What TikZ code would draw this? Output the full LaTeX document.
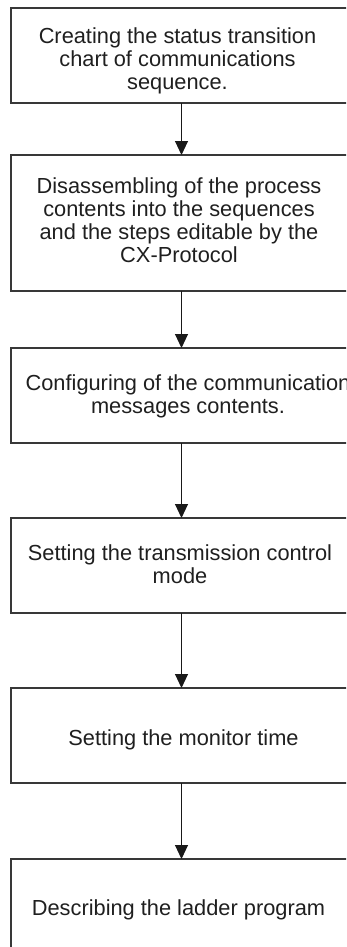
\documentclass[tikz,border=0pt]{standalone}
\usepackage{fontspec}
\setmainfont{Liberation Sans}
\usetikzlibrary{arrows.meta}
\begin{document}
\begin{tikzpicture}[x=1bp,y=-1bp,
  box/.style={draw=black!78, line width=1.1bp, minimum width=341bp, inner sep=0pt, outer sep=0pt, anchor=north},
  lbl/.style={inner sep=0pt, anchor=base, text=black!88, font=\fontsize{21.8bp}{23.3bp}\selectfont},
  arr/.style={draw=black!90, line width=1bp, -{Triangle[width=13bp,length=14bp]}}]
\useasboundingbox (0,0) rectangle (346,947);
\clip (0,0) rectangle (346,947);
\node[box, minimum height=95bp]  (b1) at (181.5,8) {};
\node[box, minimum height=136bp] (b2) at (181.5,155) {};
\node[box, minimum height=95bp]  (b3) at (181.5,348) {};
\node[box, minimum height=95bp]  (b4) at (181.5,518) {};
\node[box, minimum height=95bp]  (b5) at (181.5,688) {};
\node[box, minimum height=120bp] (b6) at (181.5,859) {};
\node[lbl] (t1) at (177.5,43) {\begin{tabular}[t]{@{}c@{}}Creating the status transition\\chart of communications\\sequence.\end{tabular}};
\node[lbl] (t2) at (179,193) {\begin{tabular}[t]{@{}c@{}}Disassembling of the process\\contents into the sequences\\and the steps editable by the\\CX-Protocol\end{tabular}};
\node[lbl] (t3) at (188,390) {\begin{tabular}[t]{@{}c@{}}Configuring of the communication\\messages contents.\end{tabular}};
\node[lbl] (t4) at (180,560) {\begin{tabular}[t]{@{}c@{}}Setting the transmission control\\mode\end{tabular}};
\node[lbl] (t5) at (183.5,745) {Setting the monitor time};
\node[lbl] (t6) at (178.5,915) {Describing the ladder program};
\draw[arr] (b1.south) -- (b2.north);
\draw[arr] (b2.south) -- (b3.north);
\draw[arr] (b3.south) -- (b4.north);
\draw[arr] (b4.south) -- (b5.north);
\draw[arr] (b5.south) -- (b6.north);
\end{tikzpicture}
\end{document}
